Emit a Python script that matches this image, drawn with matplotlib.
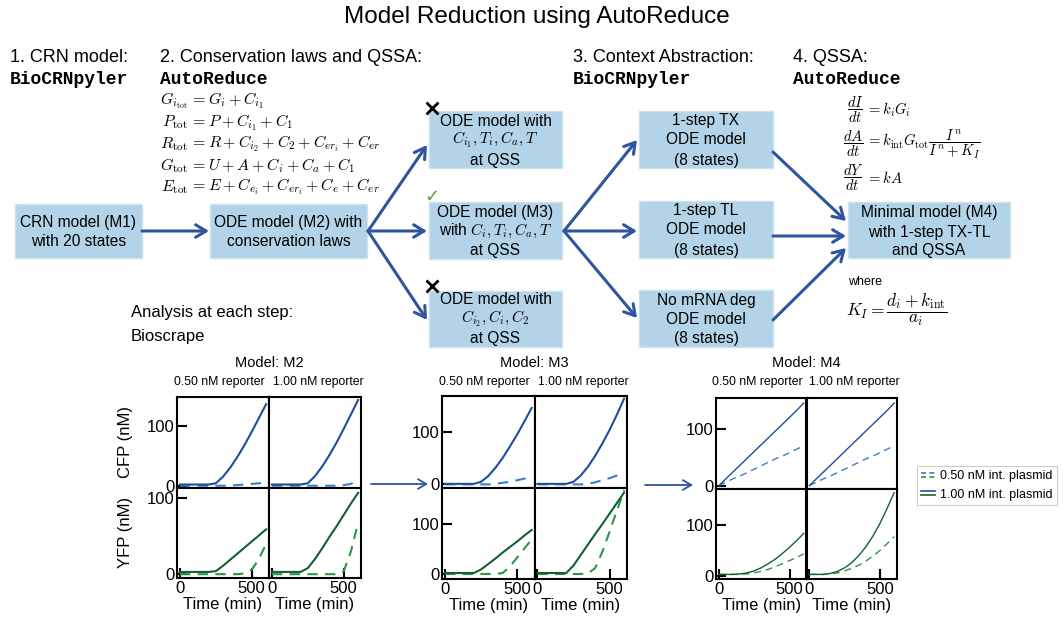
import matplotlib
matplotlib.use("Agg")
import matplotlib.pyplot as plt
from matplotlib.patches import Rectangle
from matplotlib.lines import Line2D
from matplotlib.legend_handler import HandlerBase

plt.rcParams["font.family"] = ["Liberation Sans", "DejaVu Sans"]
plt.rcParams["mathtext.fontset"] = "cm"

# time points (min)
t_min = [0, 50, 100, 150, 200, 250, 300, 350, 400, 450, 500, 550, 600]

# Model M2 (hi = 1.00 nM int. plasmid, lo = 0.50 nM int. plasmid)
m2_cfp_r050_hi = [2, 2, 2, 2, 2, 4, 15, 30, 48, 68, 90, 113, 136]
m2_cfp_r050_lo = [0, 0, 0, 0, 0, 0, 0, 0.5, 1, 2, 3, 4, 6]
m2_cfp_r100_hi = [2, 2, 2, 2, 2, 4, 16, 32, 51, 72, 95, 119, 143]
m2_cfp_r100_lo = [0, 0, 0, 0, 0, 0, 0, 0, 0, 0, 1, 3, 9]
m2_yfp_r050_hi = [3, 3, 3, 3, 3, 4, 11, 19, 27, 35, 43, 51, 59]
m2_yfp_r050_lo = [0, 0, 0, 0, 0, 0, 0, 0, 0, 1, 6, 20, 40]
m2_yfp_r100_hi = [3, 3, 3, 3, 3, 8, 20, 34, 49, 63, 78, 93, 107]
m2_yfp_r100_lo = [0, 0, 0, 0, 0, 0, 0, 0, 0, 0, 4, 30, 68]

# Model M3
m3_cfp_r050_hi = [1, 1, 1, 1, 1, 5, 16, 32, 51, 73, 96, 121, 147]
m3_cfp_r050_lo = [0, 0, 0, 0, 0, 0, 0, 1, 3, 5, 8, 11, 15]
m3_cfp_r100_hi = [1, 1, 1, 1, 1, 5, 17, 34, 55, 79, 105, 134, 165]
m3_cfp_r100_lo = [0, 0, 0, 0, 0, 0, 0, 1, 4, 8, 12, 17, 22]
m3_yfp_r050_hi = [2, 2, 2, 2, 2, 9, 20, 31, 43, 54, 65, 77, 88]
m3_yfp_r050_lo = [0, 0, 0, 0, 0, 0, 0, 0, 2, 15, 33, 51, 69]
m3_yfp_r100_hi = [2, 2, 2, 2, 2, 17, 38, 59, 80, 100, 121, 142, 163]
m3_yfp_r100_lo = [0, 0, 0, 0, 0, 0, 0, 1, 12, 45, 85, 127, 168]

# Model M4
m4_cfp_r050_hi = [0, 12, 24, 36, 48, 60, 72, 84, 96, 108, 120, 132, 145]
m4_cfp_r050_lo = [0, 6, 12, 17, 23, 29, 35, 41, 47, 52, 58, 64, 70]
m4_cfp_r100_hi = [0, 12, 24, 36, 48, 60, 72, 84, 96, 108, 120, 132, 145]
m4_cfp_r100_lo = [0, 6, 12, 17, 23, 29, 35, 41, 47, 52, 58, 64, 70]
m4_yfp_r050_hi = [3, 3, 3, 4, 6, 10, 16, 24, 33, 44, 56, 69, 83]
m4_yfp_r050_lo = [3, 3, 3, 3, 4, 6, 9, 13, 18, 24, 30, 36, 43]
m4_yfp_r100_hi = [3, 3, 3, 5, 9, 16, 26, 40, 57, 78, 103, 132, 163]
m4_yfp_r100_lo = [3, 3, 3, 4, 6, 10, 15, 21, 29, 39, 50, 63, 77]

reporters = ["0.50 nM reporter", "1.00 nM reporter"]
plasmids = ["0.50 nM int. plasmid", "1.00 nM int. plasmid"]

BOX = "#b3d4e8"
ARROW = "#2d55a0"
BLUE_SOLID = "#1d4e9e"
BLUE_DASH = "#3b80c8"
GREEN_SOLID = "#136130"
GREEN_DASH = "#2e9545"

fig = plt.figure(figsize=(10.63, 6.24), dpi=100)
ov = fig.add_axes([0, 0, 1, 1])
ov.set_xlim(0, 1063)
ov.set_ylim(624, 0)
ov.axis("off")


def box(x0, y0, x1, y1, lines, ys):
    ov.add_patch(Rectangle((x0, y0), x1 - x0, y1 - y0, fc=BOX, ec="#cde2ef", lw=1))
    for s, y in zip(lines, ys):
        ov.text((x0 + x1) / 2, y, s, ha="center", va="center", fontsize=11.2)


def arrow(x0, y0, x1, y1, lw=2.2, head="->,head_length=0.75,head_width=0.45"):
    ov.annotate("", xy=(x1, y1), xytext=(x0, y0),
                arrowprops=dict(arrowstyle=head, color=ARROW, lw=lw,
                                shrinkA=0, shrinkB=0))


# title and section headers
ov.text(537, 17, "Model Reduction using AutoReduce", ha="center", va="center", fontsize=17.5)
hdr = dict(fontsize=13, va="center", ha="left")
mono = dict(fontsize=13, va="center", ha="left", family="Liberation Mono", weight="bold")
ov.text(10, 58, "1. CRN model:", **hdr)
ov.text(10, 80, "BioCRNpyler", **mono)
ov.text(160, 58, "2. Conservation laws and QSSA:", **hdr)
ov.text(160, 79, "AutoReduce", **mono)
ov.text(573, 58, "3. Context Abstraction:", **hdr)
ov.text(573, 79, "BioCRNpyler", **mono)
ov.text(793, 58, "4. QSSA:", **hdr)
ov.text(793, 79, "AutoReduce", **mono)

# conservation laws
cons_lhs = [r"$G_{i_{\mathrm{tot}}}$", r"$P_{\mathrm{tot}}$", r"$R_{\mathrm{tot}}$",
            r"$G_{\mathrm{tot}}$", r"$E_{\mathrm{tot}}$"]
cons_rhs = [r"$= G_i + C_{i_1}$", r"$= P + C_{i_1} + C_1$",
            r"$= R + C_{i_2} + C_2 + C_{er_i} + C_{er}$",
            r"$= U + A + C_i + C_a + C_1$",
            r"$= E + C_{e_i} + C_{er_i} + C_e + C_{er}$"]
for k, (l, r) in enumerate(zip(cons_lhs, cons_rhs)):
    y = 101 + 21.5 * k
    ov.text(188, y, l, ha="right", va="center", fontsize=11.5)
    ov.text(190, y, r, ha="left", va="center", fontsize=11.5)

# QSSA equations
qssa_lhs = [r"$\dfrac{dI}{dt}$", r"$\dfrac{dA}{dt}$", r"$\dfrac{dY}{dt}$"]
qssa_rhs = [r"$= k_i G_i$", r"$= k_{\mathrm{int}} G_{\mathrm{tot}} \dfrac{I^n}{I^n + K_I}$", r"$= kA$"]
for l, r, y in zip(qssa_lhs, qssa_rhs, [110, 144, 178]):
    ov.text(864, y, l, ha="right", va="center", fontsize=10.5)
    ov.text(866, y, r, ha="left", va="center", fontsize=10.5)
ov.text(848, 282, "where", ha="left", va="center", fontsize=9)
ov.text(846, 310, r"$K_I = \dfrac{d_i + k_{\mathrm{int}}}{a_i}$", ha="left", va="center", fontsize=12.5)

# flowchart boxes
box(15, 204, 142, 258, ["CRN model (M1)", "with 20 states"], [222, 242])
box(210, 204, 367, 258, ["ODE model (M2) with", "conservation laws"], [222, 242])
box(429, 111, 562, 168, ["ODE model with", r"$C_{i_1}, T_i, C_a, T$", "at QSS"], [121, 140, 160])
box(429, 202, 562, 259, ["ODE model (M3)", r"with $C_i, T_i, C_a, T$", "at QSS"], [212, 231, 250])
box(429, 291, 562, 347, ["ODE model with", r"$C_{i_2}, C_i, C_2$", "at QSS"], [300, 319, 339])
box(639, 111, 773, 168, ["1-step TX", "ODE model", "(8 states)"], [121, 140, 160])
box(639, 201, 773, 258, ["1-step TL", "ODE model", "(8 states)"], [211, 230, 250])
box(639, 290, 773, 347, ["No mRNA deg", "ODE model", "(8 states)"], [300, 319, 339])
box(848, 202, 1010, 258, ["Minimal model (M4)", "with 1-step TX-TL", "and QSSA"], [213, 232, 250])

# marks on the QSSA options
ov.plot(432, 108, marker="x", ms=9, mew=2, color="black")
ov.plot(432, 286, marker="x", ms=9, mew=2, color="black")
ov.text(432, 197, "\u2713", ha="center", va="center", fontsize=13,
        color="#5a9e3c", family="DejaVu Sans")

# flowchart arrows
arrow(142, 231, 209, 231)
arrow(368, 231, 427, 145)
arrow(368, 231, 427, 231)
arrow(368, 231, 427, 320)
arrow(564, 231, 637, 140)
arrow(564, 231, 637, 231)
arrow(564, 231, 637, 318)
arrow(773, 152, 846, 221)
arrow(773, 236, 846, 236)
arrow(773, 320, 846, 248)

ov.text(131, 313, "Analysis at each step:", ha="left", va="center", fontsize=12)
ov.text(131, 336, "Bioscrape", ha="left", va="center", fontsize=12)

# small arrows between the plot groups
arrow(371, 484, 428, 484, lw=1.3, head="->,head_length=0.6,head_width=0.35")
arrow(645, 485, 693, 485, lw=1.3, head="->,head_length=0.6,head_width=0.35")

models = {
    "M2": dict(x0=177, y0=397, w=92, h=90.5, lw=1.5, ylims=[(-3, 148), (-5, 114)],
               data=[[(m2_cfp_r050_lo, m2_cfp_r050_hi), (m2_cfp_r100_lo, m2_cfp_r100_hi)],
                     [(m2_yfp_r050_lo, m2_yfp_r050_hi), (m2_yfp_r100_lo, m2_yfp_r100_hi)]]),
    "M3": dict(x0=442, y0=396, w=92.5, h=91.5, lw=1.5, ylims=[(-6, 170), (-10, 173)],
               data=[[(m3_cfp_r050_lo, m3_cfp_r050_hi), (m3_cfp_r100_lo, m3_cfp_r100_hi)],
                     [(m3_yfp_r050_lo, m3_yfp_r050_hi), (m3_yfp_r100_lo, m3_yfp_r100_hi)]]),
    "M4": dict(x0=716, y0=398, w=90.5, h=90.5, lw=1.0, ylims=[(-5, 154), (-6, 171)],
               data=[[(m4_cfp_r050_lo, m4_cfp_r050_hi), (m4_cfp_r100_lo, m4_cfp_r100_hi)],
                     [(m4_yfp_r050_lo, m4_yfp_r050_hi), (m4_yfp_r100_lo, m4_yfp_r100_hi)]]),
}

W, H = 1063, 624
legend_lines = None
for name, m in models.items():
    x0, y0, w, h = m["x0"], m["y0"], m["w"], m["h"]
    ov.text(x0 + w, 363, "Model: " + name, ha="center", va="center", fontsize=10.5)
    ov.text(x0 + w * 0.5 - 4, 382, reporters[0], ha="center", va="center", fontsize=8.8)
    ov.text(x0 + w * 1.5 + 3, 382, reporters[1], ha="center", va="center", fontsize=8.8)
    for r in range(2):
        colors = [(BLUE_DASH, BLUE_SOLID), (GREEN_DASH, GREEN_SOLID)][r]
        for c in range(2):
            ax = fig.add_axes([(x0 + c * w) / W, 1 - (y0 + (r + 1) * h) / H, w / W, h / H])
            lo, hi = m["data"][r][c]
            l1, = ax.plot(t_min, lo, color=colors[0], lw=m["lw"], dashes=(5, 3.5))
            l2, = ax.plot(t_min, hi, color=colors[1], lw=m["lw"])
            ax.set_xlim(-20, 620)
            ax.set_ylim(*m["ylims"][r])
            for sp in ax.spines.values():
                sp.set_linewidth(1.5)
            ax.tick_params(direction="in", length=7, width=1.5, labelsize=12, pad=2)
            ax.set_yticks([0, 100])
            ax.set_xticks([0, 500])
            if c == 1:
                ax.tick_params(axis="y", left=False, labelleft=False)
            if r == 0:
                ax.tick_params(axis="x", bottom=False, labelbottom=False)
            else:
                ax.set_xlabel("Time (min)", fontsize=12, labelpad=1)
            if name == "M2" and c == 0:
                ax.set_ylabel(["CFP (nM)", "YFP (nM)"][r], fontsize=12)
                ax.yaxis.set_label_coords(-0.48, 0.5)
            if r == 0 and c == 0 and name == "M2":
                cfp_lines = (l1, l2)
            if r == 1 and c == 0 and name == "M2":
                legend_lines = [(cfp_lines[0], l1), (cfp_lines[1], l2)]


class HandlerStack(HandlerBase):
    def create_artists(self, legend, orig_handle, xdescent, ydescent,
                       width, height, fontsize, trans):
        out = []
        for k, hnd in enumerate(orig_handle):
            y = height * (0.75 - 0.5 * k) - ydescent
            ln = Line2D([-xdescent, width - xdescent], [y, y], color=hnd.get_color(),
                        linestyle=hnd.get_linestyle(), lw=1.2)
            if hnd.get_linestyle() != "-":
                ln.set_dashes((3, 2))
            ln.set_transform(trans)
            out.append(ln)
        return out


leg = fig.legend(handles=legend_lines, labels=plasmids, loc="upper left",
                 bbox_to_anchor=(917 / W, 1 - 466 / H), fontsize=9,
                 handler_map={tuple: HandlerStack()}, handlelength=1.1,
                 handletextpad=0.4, fancybox=False, framealpha=1,
                 borderpad=0.35, labelspacing=0.5, borderaxespad=0)
leg.get_frame().set_edgecolor("#cccccc")
leg.get_frame().set_linewidth(0.8)

fig.savefig("out.png", dpi=100)
